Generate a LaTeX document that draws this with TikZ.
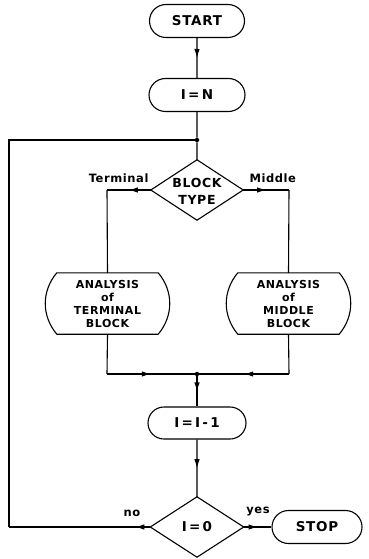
\documentclass[tikz,border=0pt]{standalone}
\usepackage{fontspec}
\setmainfont{DejaVu Sans}[LetterSpace=5]
\usetikzlibrary{shapes.misc,decorations.markings,arrows.meta}

\tikzset{
  flow/.style={line width=1.1pt},
  pill/.style={rounded rectangle, draw, line width=1.1pt, inner sep=0pt,
    minimum height=33pt, font=\bfseries\fontsize{13.5}{15}\selectfont},
  slot/.style={rectangle, inner sep=0pt},
  boxtext/.style={align=center, font=\bfseries\fontsize{11}{13}\selectfont},
  lbl/.style={font=\bfseries\fontsize{11.5}{13}\selectfont},
  midarrow/.style={postaction={decorate},
    decoration={markings, mark=at position #1 with {\arrow{Latex[length=9pt,width=5.5pt]}}}},
  midarrow/.default=0.5,
  jdot/.style={circle, fill, inner sep=0pt, minimum size=4.5pt}
}

\begin{document}
\begin{tikzpicture}[x=1pt, y=-1pt]
\useasboundingbox (0,0) rectangle (368,559);

% terminals and assignments
\node[pill, minimum width=95pt] (start) at (197,21) {START};
\node[pill, minimum width=96pt] (ian) at (197,95) {I\,=\,N};
\node[pill, minimum width=98pt, minimum height=32pt] (dec) at (197,423) {I\,=\,I\,-\,1};
\node[pill, minimum width=90pt] (stop) at (317,527) {STOP};

% junction points
\node[jdot] (jtop) at (197,140) {};
\node[jdot] (jbot) at (197,374) {};
\coordinate (cl) at (9,140);
\coordinate (cb) at (9,527);
\coordinate (tl) at (107,190);
\coordinate (tr) at (289,190);
\coordinate (bl) at (107,374);
\coordinate (br) at (289,374);

% decision: block type
\node[slot, minimum width=92pt, minimum height=60pt] (bt) at (197,190) {};
\draw[flow] (bt.north) -- (bt.east) -- (bt.south) -- (bt.west) -- cycle;
\node[align=center, font=\bfseries\fontsize{12.5}{17}\selectfont] (bttext) at (197,191) {BLOCK\\TYPE};

% decision: I = 0
\node[slot, minimum width=93pt, minimum height=60pt] (iz) at (197,527) {};
\draw[flow] (iz.north) -- (iz.east) -- (iz.south) -- (iz.west) -- cycle;
\node[font=\bfseries\fontsize{13.5}{15}\selectfont] (iztext) at (197,527) {I\,=\,0};

% analysis boxes with bulging sides
\node[slot, minimum width=101pt, minimum height=61pt] (lbox) at (107.5,303.5) {};
\draw[flow] (lbox.north west) to[bend right=40] (lbox.south west) -- (lbox.south east)
  to[bend right=40] (lbox.north east) -- cycle;
\node[boxtext] (ltext) at (lbox.center) {ANALYSIS\\of\\TERMINAL\\BLOCK};

\node[slot, minimum width=101pt, minimum height=61pt] (rbox) at (288.5,303.5) {};
\draw[flow] (rbox.north west) to[bend right=40] (rbox.south west) -- (rbox.south east)
  to[bend right=40] (rbox.north east) -- cycle;
\node[boxtext] (rtext) at (rbox.center) {ANALYSIS\\of\\MIDDLE\\BLOCK};

% labels
\node[lbl, anchor=east] (lterm) at (152,178) {Terminal};
\node[lbl, anchor=west] (lmid) at (246,178) {Middle};
\node[lbl] (lno) at (132,513) {no};
\node[lbl] (lyes) at (258,512) {yes};

% connectors
\draw[flow, midarrow] (start) -- (ian);
\draw[flow] (ian) -- (jtop) -- (bt.north);
\draw[flow, midarrow] (bt.west) -- (tl);
\draw[flow] (tl) -- (lbox.north);
\draw[flow, midarrow] (bt.east) -- (tr);
\draw[flow] (tr) -- (rbox.north);
\draw[flow] (lbox.south) -- (bl);
\draw[flow, midarrow] (bl) -- (jbot);
\draw[flow] (rbox.south) -- (br);
\draw[flow, midarrow] (br) -- (jbot);
\draw[flow, midarrow] (jbot) -- (dec);
\draw[flow, midarrow] (dec) -- (iz.north);
\draw[flow, midarrow=15pt] (iz.west) -- (cb);
\draw[flow] (cb) -- (cl) -- (jtop);
\draw[flow, midarrow] (iz.east) -- (stop);
\end{tikzpicture}
\end{document}
